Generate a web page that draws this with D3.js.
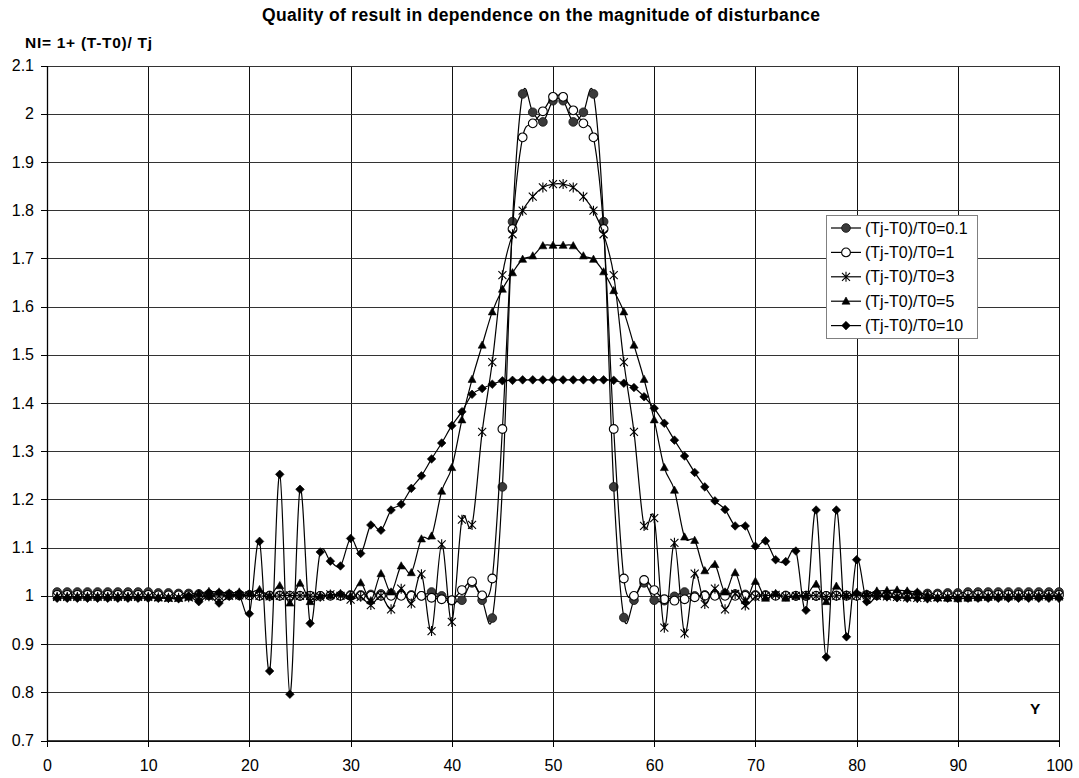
<!DOCTYPE html>
<html>
<head>
<meta charset="utf-8">
<script src="https://d3js.org/d3.v7.min.js"></script>
<style>
  body { margin: 0; background: #fff; }
  text { font-family: "Liberation Sans", Arial, sans-serif; fill: #000; }
</style>
</head>
<body>
<div id="chart"></div>
<script>
// x positions (Y coordinate of the problem), 1..100
var xValues = d3.range(1, 101);

// (Tj-T0)/T0 = 0.1
var p01 = [1.008,1.008,1.008,1.008,1.008,1.008,1.008,1.008,1.008,1.008,
  1.006,1.006,1.005,1.005,1.004,1.004,1.004,1.003,1.003,
  1.002,1.002,1.001,1.001,1.000,1.000,1.000,1.000,1.001,1.001,1.002,1.002,1.003,1.004,
  1.005,1.003,1.002,1.000,1.008,1.000,0.990,0.991,1.027,0.991,0.954,1.226,
  1.776,2.041,2.003,1.983,2.027,2.027,1.983,2.003,2.041,1.776,
  1.226,0.955,0.991,1.027,0.991,0.990,0.999,1.008,1.000,1.002,1.003,1.005,
  1.004,1.003,1.002,1.002,1.001,1.001,1.000,1.000,1.000,1.000,1.001,1.001,1.002,1.002,
  1.003,1.003,1.004,1.004,1.004,1.005,1.005,1.006,1.006,
  1.008,1.008,1.008,1.008,1.008,1.008,1.008,1.008,1.008,1.008];

// (Tj-T0)/T0 = 1
var p1 = [1.002,1.002,1.002,1.002,1.002,1.002,1.002,1.002,1.002,1.002,
  1.001,1.001,1.001,1.001,1.001,1.001,1.001,1.001,1.001,1.001,
  1.000,1.000,1.000,1.000,1.000,1.000,1.000,1.000,1.000,1.000,1.000,1.000,1.000,1.000,1.000,1.000,
  1.000,0.996,0.993,0.991,1.012,1.030,1.001,1.036,1.346,
  1.761,1.951,1.980,2.005,2.035,2.035,2.007,1.980,1.951,1.761,
  1.346,1.036,1.000,1.033,1.012,0.993,0.990,0.993,0.997,
  1.000,1.000,1.000,1.000,1.000,1.000,1.000,1.000,1.000,1.000,1.000,1.000,1.000,1.000,1.000,1.000,
  1.001,1.001,1.001,1.001,1.001,1.001,1.001,1.001,1.001,1.001,
  1.002,1.002,1.002,1.002,1.002,1.002,1.002,1.002,1.002,1.002];

// (Tj-T0)/T0 = 3
var p3 = [0.998,0.998,0.998,0.998,0.998,0.998,0.998,0.998,0.998,0.998,
  0.997,0.996,0.996,0.997,0.998,0.999,1.000,1.000,1.001,
  1.001,1.000,0.999,1.000,1.001,1.000,1.000,0.998,1.003,1.000,0.992,0.998,0.981,1.000,
  0.972,1.015,0.984,1.045,0.927,1.107,0.946,1.158,1.147,1.340,1.485,1.665,
  1.750,1.799,1.828,1.847,1.854,1.854,1.847,1.828,1.799,1.750,
  1.665,1.485,1.340,1.145,1.161,0.934,1.110,0.922,1.046,0.983,1.015,0.972,
  1.004,0.980,0.998,1.000,1.002,0.999,1.000,1.001,1.000,0.999,1.000,1.001,1.000,1.001,
  1.000,0.999,0.998,0.997,0.996,0.996,0.997,0.998,0.999,
  0.999,0.999,0.999,0.999,0.999,0.999,0.999,0.999,0.999,0.999];

// (Tj-T0)/T0 = 5
var p5 = [0.998,0.998,0.998,0.998,0.998,0.998,0.998,0.998,0.998,0.998,
  0.996,0.995,0.995,0.997,1.005,1.009,1.008,1.006,1.008,
  1.005,1.013,1.000,1.021,0.985,1.026,0.988,1.000,1.000,1.005,1.000,1.027,0.990,1.046,
  1.008,1.062,1.048,1.118,1.124,1.217,1.266,1.365,1.449,1.520,1.589,1.636,
  1.670,1.698,1.705,1.726,1.727,1.727,1.726,1.705,1.698,1.672,
  1.633,1.589,1.520,1.449,1.365,1.266,1.219,1.122,1.115,1.052,1.065,1.008,
  1.048,0.990,1.030,0.995,1.005,0.995,1.000,1.000,1.024,0.988,1.020,1.000,1.007,1.004,
  1.010,1.011,1.012,1.010,1.008,1.002,0.996,0.995,0.994,
  0.995,0.996,0.997,0.998,0.998,0.999,0.999,1.000,1.000,1.000];

// (Tj-T0)/T0 = 10
var p10 = [0.995,0.995,0.995,0.995,0.995,0.995,0.995,0.995,0.995,0.995,
  0.995,0.995,0.994,1.000,0.988,1.000,0.985,1.000,1.000,
  0.963,1.113,0.844,1.252,0.796,1.221,0.943,1.091,1.072,1.062,1.119,1.088,1.147,1.136,
  1.178,1.190,1.223,1.249,1.284,1.317,1.353,1.382,1.418,1.430,1.439,1.446,
  1.447,1.448,1.448,1.448,1.448,1.448,1.448,1.448,1.448,1.448,
  1.447,1.441,1.432,1.413,1.389,1.358,1.323,1.290,1.256,1.226,1.197,1.179,
  1.145,1.145,1.103,1.114,1.075,1.071,1.093,0.970,1.178,0.873,1.178,0.915,1.075,0.988,
  1.000,0.998,0.996,0.995,0.995,0.994,0.995,0.995,0.995,
  0.995,0.995,0.995,0.995,0.995,0.995,0.995,0.995,0.995,0.995];

var seriesNames = ["(Tj-T0)/T0=0.1", "(Tj-T0)/T0=1", "(Tj-T0)/T0=3", "(Tj-T0)/T0=5", "(Tj-T0)/T0=10"];
var seriesMarkers = ["dot", "ring", "star", "triangle", "diamond"];
var seriesValues = [p01, p1, p3, p5, p10];

var xTicks = [0, 10, 20, 30, 40, 50, 60, 70, 80, 90, 100];
var yTicks = [0.7, 0.8, 0.9, 1.0, 1.1, 1.2, 1.3, 1.4, 1.5, 1.6, 1.7, 1.8, 1.9, 2.0, 2.1];
var yTickLabels = ["0.7", "0.8", "0.9", "1", "1.1", "1.2", "1.3", "1.4", "1.5", "1.6", "1.7", "1.8", "1.9", "2", "2.1"];

var W = 1079, H = 778;
// note: "top" is reserved on window, so plot edges get their own names
var plotLeft = 47, plotRight = 1059, plotTop = 65.5, plotBottom = 740.5;

var svg = d3.select("#chart").append("svg")
    .attr("width", W)
    .attr("height", H);

var x = d3.scaleLinear().domain([0, 100]).range([plotLeft, plotRight]);
var y = d3.scaleLinear().domain([0.7, 2.1]).range([plotBottom, plotTop]);

/**
 * grid
 */
svg.append("g")
   .attr("transform", "translate(0," + plotBottom + ")")
   .call(d3.axisBottom(x).tickValues(xTicks).tickSize(-(plotBottom - plotTop)).tickFormat(""))
   .call(function(g) { g.select(".domain").remove(); })
   .selectAll("line").attr("stroke", "#111").attr("shape-rendering", "crispEdges");

svg.append("g")
   .attr("transform", "translate(" + plotLeft + ",0)")
   .call(d3.axisLeft(y).tickValues(yTicks).tickSize(-(plotRight - plotLeft)).tickFormat(""))
   .call(function(g) { g.select(".domain").remove(); })
   .selectAll("line").attr("stroke", "#333").attr("shape-rendering", "crispEdges");

/**
 * axes
 */
var xAxis = svg.append("g")
   .attr("transform", "translate(0," + plotBottom + ")")
   .call(d3.axisBottom(x).tickValues(xTicks).tickSize(6).tickSizeOuter(0).tickPadding(13));
var yAxis = svg.append("g")
   .attr("transform", "translate(" + plotLeft + ",0)")
   .call(d3.axisLeft(y).tickValues(yTicks).tickSize(6).tickSizeOuter(0).tickPadding(7)
           .tickFormat(function(d, i) { return yTickLabels[i]; }));

[xAxis, yAxis].forEach(function(a) {
    a.select(".domain").attr("stroke", "#000").attr("stroke-width", 1.3);
    a.selectAll("line").attr("stroke", "#000").attr("shape-rendering", "crispEdges");
    a.selectAll("text").style("font-size", "16px").attr("fill", "#000");
});

/**
 * series lines (smoothed like the spreadsheet) and markers
 */
var line = d3.line()
    .x(function(d) { return x(d[0]); })
    .y(function(d) { return y(d[1]); })
    .curve(d3.curveCatmullRom.alpha(0));

function markerPath(type) {
    if (type == "star") {
        var r = 4;
        return "M" + (-r) + "," + (-r) + "L" + r + "," + r +
               "M" + (-r) + "," + r + "L" + r + "," + (-r) +
               "M0," + (-r - 1) + "L0," + (r + 1);
    }
    if (type == "triangle") return "M0,-4.2L4,3L-4,3Z";
    if (type == "diamond") return "M0,-4.3L4.3,0L0,4.3L-4.3,0Z";
    return d3.symbol().type(d3.symbolCircle).size(60)();
}

function drawMarkers(sel, type) {
    sel.attr("d", markerPath(type));
    if (type == "dot") sel.attr("fill", "#3a3a3a").attr("stroke", "#111").attr("stroke-width", 0.8);
    else if (type == "ring") sel.attr("fill", "#fff").attr("stroke", "#000").attr("stroke-width", 1.1);
    else if (type == "star") sel.attr("fill", "none").attr("stroke", "#000").attr("stroke-width", 1.1);
    else sel.attr("fill", "#000").attr("stroke", "#000").attr("stroke-width", 0.6);
}

seriesValues.forEach(function(vals, s) {
    var pts = xValues.map(function(v, i) { return [v, vals[i]]; });
    var g = svg.append("g");
    g.append("path")
     .attr("d", line(pts))
     .attr("fill", "none")
     .attr("stroke", "#000")
     .attr("stroke-width", 1.2);
    g.selectAll("path.m")
     .data(pts)
     .enter().append("path")
     .attr("class", "m")
     .attr("transform", function(d) { return "translate(" + x(d[0]) + "," + y(d[1]) + ")"; })
     .call(drawMarkers, seriesMarkers[s]);
});

/**
 * titles
 */
svg.append("text")
   .attr("x", 262).attr("y", 21)
   .attr("textLength", 558).attr("lengthAdjust", "spacing")
   .style("font-size", "17.5px").style("font-weight", "bold")
   .text("Quality of result in dependence on the magnitude of disturbance");

svg.append("text")
   .attr("x", 25).attr("y", 48)
   .attr("textLength", 127).attr("lengthAdjust", "spacing")
   .style("font-size", "15.5px").style("font-weight", "bold")
   .text("NI= 1+ (T-T0)/ Tj");

svg.append("text")
   .attr("x", 1030).attr("y", 714)
   .style("font-size", "15.5px").style("font-weight", "bold")
   .text("Y");

/**
 * legend
 */
var legend = svg.append("g").attr("transform", "translate(826,215)");
legend.append("rect")
      .attr("width", 151).attr("height", 123)
      .attr("fill", "#fff").attr("stroke", "#808080")
      .attr("shape-rendering", "crispEdges");

seriesNames.forEach(function(name, i) {
    var row = legend.append("g").attr("transform", "translate(0," + (13 + i * 24.4) + ")");
    row.append("line")
       .attr("x1", 5).attr("x2", 35)
       .attr("stroke", "#000").attr("stroke-width", 1.2);
    row.append("path")
       .attr("transform", "translate(20,0)")
       .call(drawMarkers, seriesMarkers[i]);
    row.append("text")
       .attr("x", 39).attr("y", 5.5)
       .style("font-size", "16px")
       .text(name);
});
</script>
</body>
</html>
